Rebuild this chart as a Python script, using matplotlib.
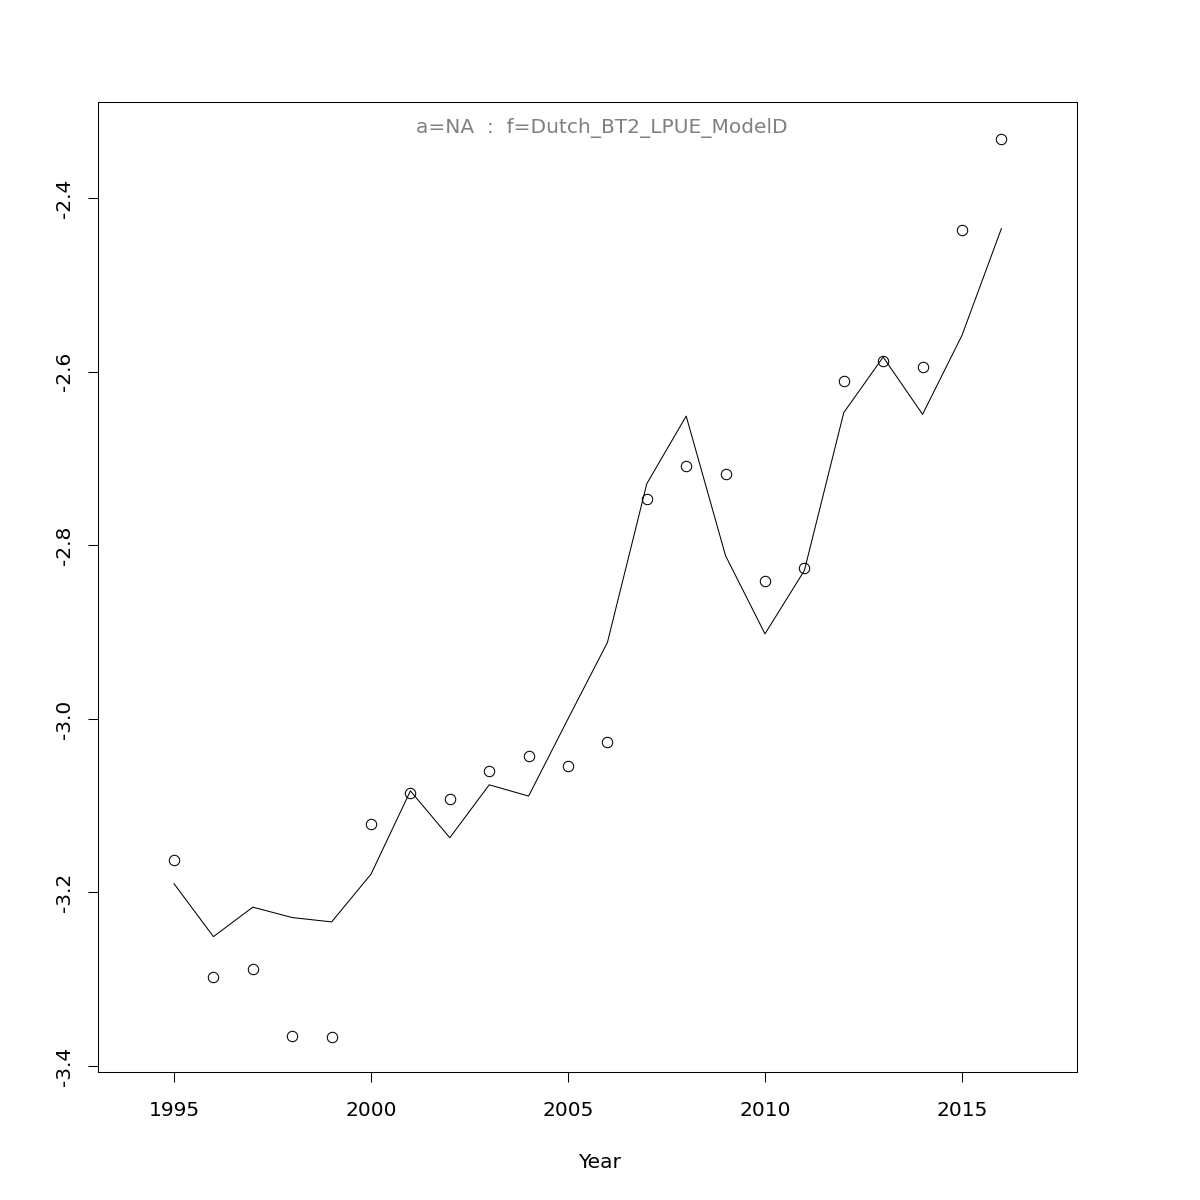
import matplotlib
matplotlib.use("Agg")
import matplotlib.pyplot as plt

# データ
years = list(range(1995, 2017))
observed = [-3.163, -3.297, -3.288, -3.365, -3.367, -3.121, -3.085, -3.092,
            -3.060, -3.043, -3.054, -3.027, -2.746, -2.709, -2.718, -2.841,
            -2.826, -2.611, -2.587, -2.595, -2.437, -2.332]
fitted = [-3.190, -3.251, -3.217, -3.229, -3.234, -3.179, -3.083, -3.137,
          -3.076, -3.089, -3.000, -2.912, -2.729, -2.651, -2.812, -2.902,
          -2.829, -2.647, -2.583, -2.649, -2.558, -2.435]
x_ticks = [1995, 2000, 2005, 2010, 2015]
y_ticks = [-3.4, -3.2, -3.0, -2.8, -2.6, -2.4]
title = "a=NA  :  f=Dutch_BT2_LPUE_ModelD"

fig = plt.figure(figsize=(12, 12), dpi=100)
ax = fig.add_axes([98 / 1200, 1 - 1072 / 1200, (1077 - 98) / 1200, (1072 - 102) / 1200])

ax.plot(years, observed, linestyle="none", marker="o", markersize=7.5,
        markerfacecolor="none", markeredgecolor="black", markeredgewidth=0.75)
ax.plot(years, fitted, color="black", linewidth=0.75)

ax.set_xlim(1993.07, 2017.92)
ax.set_ylim(-3.407, -2.289)

ax.set_xticks(x_ticks)
ax.set_xticklabels([str(t) for t in x_ticks], fontsize=14.5)
ax.set_yticks(y_ticks)
ax.set_yticklabels([f"{t:.1f}" for t in y_ticks], fontsize=14.5, rotation=90, va="center")
ax.tick_params(direction="out", length=7, width=0.75)
ax.tick_params(axis="x", pad=14)
ax.tick_params(axis="y", pad=10)

for s in ax.spines.values():
    s.set_linewidth(0.75)

# ラベル
fig.text(0.5, 1 - 1162 / 1200, "Year", ha="center", va="center", fontsize=14.5)
fig.text(602 / 1200, 1 - 128 / 1200, title, ha="center", va="center",
         fontsize=14.5, color="#808080")

fig.savefig("out.png", dpi=100)
plt.close(fig)
